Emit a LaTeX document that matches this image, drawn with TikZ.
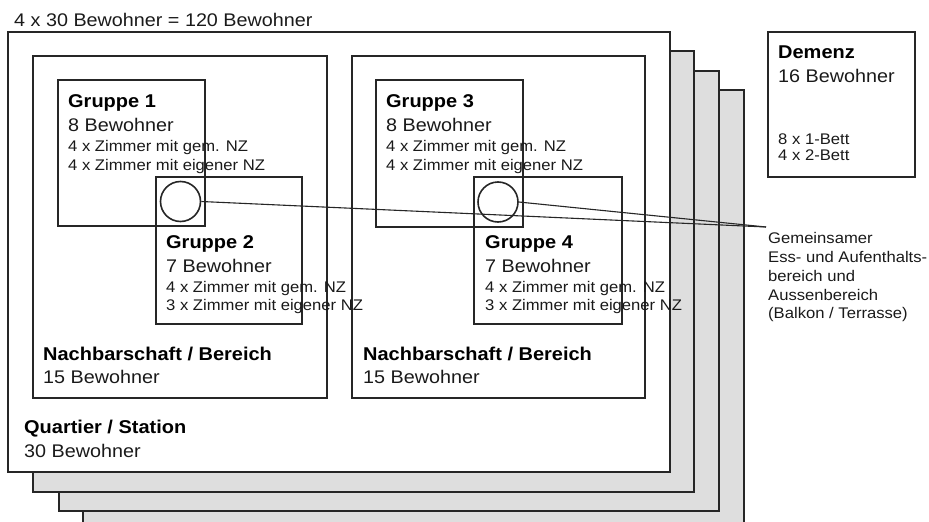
\documentclass[tikz,border=0pt]{standalone}
\usepackage{fontspec}
\setmainfont{Liberation Sans}[FakeStretch=1.08]
\definecolor{ln}{HTML}{262626}
\definecolor{stk}{HTML}{DEDEDE}
\definecolor{tx}{HTML}{1A1A1A}
\begin{document}
\begin{tikzpicture}[x=1pt,y=-1pt,
  box/.style={draw=ln,line width=1.6pt},
  stackbox/.style={box,fill=stk},
  hd/.style={anchor=base west,inner sep=0,text=black,font=\fontsize{18.5}{20}\selectfont\bfseries},
  rg/.style={anchor=base west,inner sep=0,text=tx,font=\fontsize{18.3}{20}\selectfont},
  sm/.style={anchor=base west,inner sep=0,text=tx,font=\fontsize{15.4}{19}\selectfont},
  hub/.style={circle,draw=ln,line width=1.6pt,minimum size=40pt,inner sep=0},
  lead/.style={draw=ln,line width=1.1pt}]
\useasboundingbox (0,0) rectangle (929,522);
\clip (0,0) rectangle (929,522);
% stacked floors
\draw[stackbox] (83,90) rectangle (744,545);
\draw[stackbox] (59,71) rectangle (719,511);
\draw[stackbox] (33,51) rectangle (694,492);
\draw[box,fill=white] (8,32) rectangle (670,472);
\node[rg] (top) at (14,26) {4 x 30 Bewohner = 120 Bewohner};
% Nachbarschaft boxes
\draw[box] (33,56) rectangle (327,398);
\draw[box] (352,56) rectangle (645,398);
% Gruppen boxes
\draw[box] (58,80) rectangle (205,226);
\draw[box] (156,177) rectangle (302,324);
\draw[box] (376,80) rectangle (523,227);
\draw[box] (474,177) rectangle (622,324);
% Gruppe 1
\node[hd] (g1a) at (68,107) {Gruppe 1};
\node[rg] (g1b) at (68,131) {8 Bewohner};
\node[sm] (g1c) at (68,151) {4 x Zimmer mit gem. NZ};
\node[sm] (g1d) at (68,170) {4 x Zimmer mit eigener NZ};
% Gruppe 2
\node[hd] (g2a) at (166,248) {Gruppe 2};
\node[rg] (g2b) at (166,272) {7 Bewohner};
\node[sm] (g2c) at (166,292) {4 x Zimmer mit gem. NZ};
\node[sm] (g2d) at (166,310) {3 x Zimmer mit eigener NZ};
% Gruppe 3
\node[hd] (g3a) at (386,107) {Gruppe 3};
\node[rg] (g3b) at (386,131) {8 Bewohner};
\node[sm] (g3c) at (386,151) {4 x Zimmer mit gem. NZ};
\node[sm] (g3d) at (386,170) {4 x Zimmer mit eigener NZ};
% Gruppe 4
\node[hd] (g4a) at (485,248) {Gruppe 4};
\node[rg] (g4b) at (485,272) {7 Bewohner};
\node[sm] (g4c) at (485,292) {4 x Zimmer mit gem. NZ};
\node[sm] (g4d) at (485,310) {3 x Zimmer mit eigener NZ};
% Nachbarschaft labels
\node[hd] (n1a) at (43,360) {Nachbarschaft / Bereich};
\node[rg] (n1b) at (43,383) {15 Bewohner};
\node[hd] (n2a) at (363,360) {Nachbarschaft / Bereich};
\node[rg] (n2b) at (363,383) {15 Bewohner};
% Quartier
\node[hd] (qa) at (24,433) {Quartier / Station};
\node[rg] (qb) at (24,457) {30 Bewohner};
% hubs
\node[hub] (h1) at (180.5,201.5) {};
\node[hub] (h2) at (498,202) {};
% Demenz
\draw[box] (768,32) rectangle (915,177);
\node[hd] (d1) at (778,58) {Demenz};
\node[rg] (d2) at (778,82) {16 Bewohner};
\node[sm] (d3) at (778,144) {8 x 1-Bett};
\node[sm] (d4) at (778,160) {4 x 2-Bett};
% common area label
\node[sm] (c1) at (768,243) {Gemeinsamer};
\node[sm] (c2) at (768,262) {Ess- und Aufenthalts-};
\node[sm] (c3) at (768,281) {bereich und};
\node[sm] (c4) at (768,300) {Aussenbereich};
\node[sm] (c5) at (768,318) {(Balkon / Terrasse)};
\coordinate (meet) at (766,227);
\draw[lead] (h1.east) -- (meet);
\draw[lead] (h2.east) -- (meet);
\end{tikzpicture}
\end{document}
